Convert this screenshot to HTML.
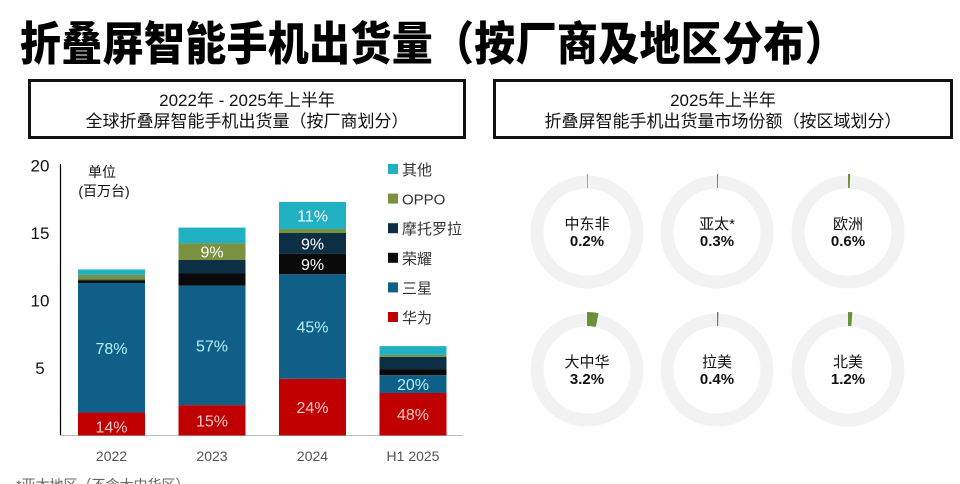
<!DOCTYPE html>
<html><head><meta charset="utf-8"><style>
html,body{margin:0;padding:0;background:#fff;}
body{width:960px;height:484px;overflow:hidden;position:relative;font-family:"Liberation Sans","Noto Sans CJK SC",sans-serif;}
#title{position:absolute;left:20px;top:6px;font-size:41px;font-weight:900;letter-spacing:0.3px;transform:scaleY(1.12);transform-origin:left top;white-space:nowrap;color:#000;font-family:"Noto Sans CJK SC",sans-serif;}
.box{position:absolute;top:79px;height:60px;border:3px solid #111;box-sizing:border-box;text-align:center;font-size:17px;line-height:21px;padding-top:8px;color:#111;}
svg{position:absolute;left:0;top:0;}
</style></head><body>
<div id="title">折叠屏智能手机出货量（按厂商及地区分布）</div>
<div class="box" style="left:28px;width:438px">2022年 - 2025年上半年<br>全球折叠屏智能手机出货量（按厂商划分）</div>
<div class="box" style="left:493px;width:460px">2025年上半年<br>折叠屏智能手机出货量市场份额（按区域划分）</div>
<svg id="chart" width="960" height="484"></svg>
<script>
const categories=["2022","2023","2024","H1 2025"];
const seriesNames=["华为","三星","荣耀","摩托罗拉","OPPO","其他"];
const huawei=[1.7,2.25,4.2,3.15];
const samsung=[9.6,8.85,7.75,1.32];
const honor=[0.2,0.9,1.5,0.45];
const moto=[0.05,1.0,1.55,0.9];
const oppo=[0.35,1.25,0.3,0.15];
const others=[0.4,1.15,2.0,0.65];
const segLabels=[["14%","15%","24%","48%"],["78%","57%","45%","20%"],["","","9%",""],["","","9%",""],["","9%","",""],["","","11%",""]];
const yTicks=[5,10,15,20];
const regions=["中东非","亚太*","欧洲","大中华","拉美","北美"];
const shares=[0.2,0.3,0.6,3.2,0.4,1.2];

const NS="http://www.w3.org/2000/svg";
const svg=document.getElementById('chart');
function mk(t,a,p){const e=document.createElementNS(NS,t);for(const k in a)e.setAttribute(k,a[k]);(p||svg).appendChild(e);return e;}
const colors=["#c00000","#0f5f89","#0a0a0a","#0d2f45","#7a9140","#1fb0c4"];
const labelColors=["#f6c8c8","#b5f0f5","#fff","#fff","#fff","#fff"];
const series=[huawei,samsung,honor,moto,oppo,others];
const y0=435.5,pxPer=13.5;
const yS=v=>y0-v*pxPer;
const barX=i=>78+i*100.5, barW=67;
let ax=mk('line',{x1:60.5,y1:164,x2:60.5,y2:435,stroke:'#000','stroke-width':1.2});

let bl=mk('line',{x1:60,y1:435.5,x2:463,y2:435.5,stroke:'#bbb','stroke-width':1});

yTicks.forEach(t=>{const e=mk('text',{x:40,y:yS(t)+6,'text-anchor':'middle','font-size':17,fill:'#111'});e.textContent=t;
});
const u=mk('text',{x:102,y:177,'text-anchor':'middle','font-size':14,fill:'#111'});u.textContent='单位';

const u2=mk('text',{x:104,y:196,'text-anchor':'middle','font-size':14,fill:'#111'});u2.textContent='(百万台)';

categories.forEach((c,i)=>{let cum=0;
 series.forEach((s,j)=>{const v=s[i];const top=yS(cum+v),bot=yS(cum);
  const r=mk('rect',{x:barX(i),y:top,width:barW,height:Math.max(0,bot-top),fill:colors[j]});
  
  const L=segLabels[j][i];
  if(L){let ly=(top+bot)/2+6; if(j===0&&i===0)ly=bot-3;
   const t=mk('text',{x:barX(i)+barW/2,y:ly,'text-anchor':'middle','font-size':16,fill:labelColors[j]});t.textContent=L;
   }
  cum+=v;});
 const xl=mk('text',{x:barX(i)+barW/2,y:461,'text-anchor':'middle','font-size':14,fill:'#555'});xl.textContent=c;
 
});
const legOrder=[5,4,3,2,1,0];
legOrder.forEach((j,k)=>{const y=163+k*29.6;
 const r=mk('rect',{x:388,y:y+1,width:10,height:10,fill:colors[j]});
 const t=mk('text',{x:402,y:y+12,'font-size':15,fill:'#333'});t.textContent=seriesNames[j];
 });
const fn=mk('text',{x:16,y:490,'font-size':14,fill:'#666'});fn.textContent='*亚太地区（不含大中华区）';

const cxs=[587,717,848],cys=[232,370];
regions.forEach((n,i)=>{const cx=cxs[i%3],cy=cys[Math.floor(i/3)];
 const ring=mk('circle',{cx:cx,cy:cy,r:50,fill:'none',stroke:'#f2f2f2','stroke-width':13});
 
 const a=Math.max(shares[i]/100*2*Math.PI,0.012);const R1=44,R2=58;
 const p=(r,t)=>[cx+r*Math.sin(t),cy-r*Math.cos(t)];
 const [x1,y1]=p(R2,0),[x2,y2]=p(R2,a),[x3,y3]=p(R1,a),[x4,y4]=p(R1,0);
 const arc=mk('path',{d:`M${x1},${y1} A${R2},${R2} 0 0 1 ${x2},${y2} L${x3},${y3} A${R1},${R1} 0 0 0 ${x4},${y4} Z`,fill:shares[i]<0.5?'#777':'#6b8f3a'});
 
 const t=mk('text',{x:cx,y:cy-3,'text-anchor':'middle','font-size':15,fill:'#111'});t.textContent=n;
 
 const v=mk('text',{x:cx,y:cy+14,'text-anchor':'middle','font-size':15,'font-weight':'bold',fill:'#111'});v.textContent=shares[i]+'%';
 
});
</script>
</body></html>
